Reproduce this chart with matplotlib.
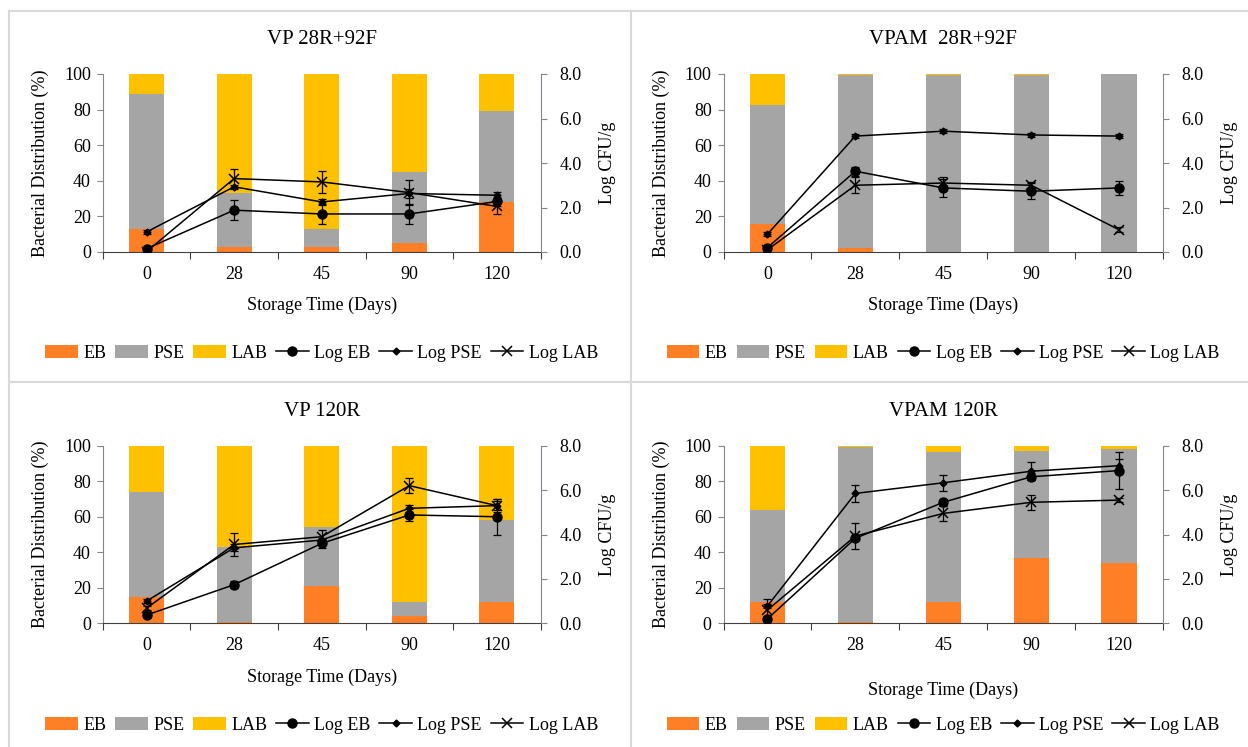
import numpy as np
import matplotlib
matplotlib.use("Agg")
import matplotlib.pyplot as plt
from matplotlib.lines import Line2D
from matplotlib.ticker import FormatStrFormatter

plt.rcParams['font.family'] = ['Liberation Serif', 'DejaVu Serif']
plt.rcParams['font.size'] = 13

# Data
days = ['0', '28', '45', '90', '120']

# VP 28R+92F
vp28_eb = [13, 3, 3, 5, 28]
vp28_pse = [76, 30, 10, 40, 51]
vp28_lab = [11, 67, 87, 55, 21]
vp28_log_eb = [0.15, 1.88, 1.71, 1.71, 2.27]
vp28_log_eb_err = [0.08, 0.45, 0.43, 0.43, 0.2]
vp28_log_pse = [0.9, 2.93, 2.25, 2.63, 2.55]
vp28_log_pse_err = [0.07, 0.08, 0.15, 0.2, 0.15]
vp28_log_lab = [0.02, 3.3, 3.15, 2.67, 2.05]
vp28_log_lab_err = [0.05, 0.43, 0.5, 0.58, 0.35]

# VPAM 28R+92F
vpam28_eb = [16, 2.5, 0, 0, 0]
vpam28_pse = [66.5, 96.8, 99.3, 99.3, 100]
vpam28_lab = [17.5, 0.7, 0.7, 0.7, 0]
vpam28_log_eb = [0.2, 3.63, 2.88, 2.73, 2.88]
vpam28_log_eb_err = [0.08, 0.2, 0.42, 0.35, 0.3]
vpam28_log_pse = [0.8, 5.21, 5.43, 5.26, 5.21]
vpam28_log_pse_err = [0.08, 0.08, 0.08, 0.08, 0.1]
vpam28_log_lab = [0.1, 3.0, 3.1, 3.0, 1.0]
vpam28_log_lab_err = [0.05, 0.35, 0.25, 0.15, 0.12]

# VP 120R
vp120_eb = [15, 1, 21, 4, 12]
vp120_pse = [59, 42, 33, 8, 46]
vp120_lab = [26, 57, 46, 88, 42]
vp120_log_eb = [0.37, 1.74, 3.6, 4.88, 4.8]
vp120_log_eb_err = [0.1, 0.15, 0.2, 0.25, 0.8]
vp120_log_pse = [1.0, 3.4, 3.75, 5.18, 5.3]
vp120_log_pse_err = [0.08, 0.15, 0.1, 0.15, 0.2]
vp120_log_lab = [0.68, 3.55, 3.9, 6.2, 5.3]
vp120_log_lab_err = [0.1, 0.5, 0.3, 0.35, 0.3]

# VPAM 120R
vpam120_eb = [12, 1, 12, 36.5, 34]
vpam120_pse = [52, 98, 84.5, 60.5, 64]
vpam120_lab = [36, 1, 3.5, 3, 2]
vpam120_log_eb = [0.2, 3.83, 5.45, 6.6, 6.88]
vpam120_log_eb_err = [0.1, 0.1, 0.15, 0.15, 0.85]
vpam120_log_pse = [0.78, 5.85, 6.33, 6.85, 7.1]
vpam120_log_pse_err = [0.1, 0.4, 0.35, 0.4, 0.3]
vpam120_log_lab = [0.6, 3.93, 4.95, 5.45, 5.55]
vpam120_log_lab_err = [0.5, 0.6, 0.35, 0.35, 0.1]

c_eb = '#FF7F27'
c_pse = '#A5A5A5'
c_lab = '#FFC000'

W, H = 1248, 747
fig = plt.figure(figsize=(W / 100, H / 100), dpi=100)

# light gray panel frames
for y in [11, 382]:
    fig.add_artist(Line2D([9 / W, 1], [1 - y / H, 1 - y / H], color='#d9d9d9', lw=1.5))
for x in [9, 631]:
    fig.add_artist(Line2D([x / W, x / W], [0, 1 - 11 / H], color='#d9d9d9', lw=1.5))


def draw_panel(box, title, eb, pse, lab, log_eb, eb_err, log_pse, pse_err, log_lab, lab_err,
               xlabel_y, legend_y):
    l, t, r, b = box
    ax = fig.add_axes([l / W, 1 - b / H, (r - l) / W, (b - t) / H])
    x = np.arange(len(days))
    eb = np.array(eb)
    pse = np.array(pse)
    lab = np.array(lab)
    ax.bar(x, eb, 0.4, color=c_eb, label='EB')
    ax.bar(x, pse, 0.4, bottom=eb, color=c_pse, label='PSE')
    ax.bar(x, lab, 0.4, bottom=eb + pse, color=c_lab, label='LAB')
    ax.set_xlim(-0.5, 4.5)
    ax.set_ylim(0, 100)
    ax.set_yticks(range(0, 101, 20))
    ax.set_xticks(np.arange(-0.5, 5, 1))
    ax.set_xticklabels([])
    ax.set_xticks(x, minor=True)
    ax.set_xticklabels(days, minor=True)
    ax.tick_params(axis='x', which='major', length=5, color='#404040')
    ax.tick_params(axis='x', which='minor', length=0, pad=10)
    ax.tick_params(axis='y', length=4.5, color='#868686', pad=4)
    for s in ['top', 'right']:
        ax.spines[s].set_visible(False)
    ax.spines['left'].set_color('#868686')
    ax.spines['bottom'].set_color('#404040')
    ax.set_ylabel('Bacterial Distribution (%)')
    ax.yaxis.set_label_coords(-54 / (r - l), 0.5)
    ax.set_xlabel('Storage Time (Days)')
    ax.xaxis.set_label_coords(0.5, -(xlabel_y - 8 - b) / (b - t))
    ax.text(0.5, 1 + 34 / (b - t), title, transform=ax.transAxes, ha='center', va='center',
            fontsize=15)

    ax2 = ax.twinx()
    ax2.set_ylim(0, 8)
    ax2.set_yticks(np.arange(0, 8.1, 2))
    ax2.yaxis.set_major_formatter(FormatStrFormatter('%.1f'))
    ax2.tick_params(axis='y', length=4.5, color='#868686', pad=9)
    for s in ['top', 'left', 'bottom']:
        ax2.spines[s].set_visible(False)
    ax2.spines['right'].set_color('#868686')
    ax2.set_ylabel('Log CFU/g')
    ax2.yaxis.set_label_coords(1 + 58 / (r - l), 0.5)

    ax2.plot(x, log_eb, color='black', lw=1.1, marker='o', ms=6.5, label='Log EB')
    ax2.plot(x, log_pse, color='black', lw=1.1, marker='D', ms=3.5, label='Log PSE')
    ax2.plot(x, log_lab, color='black', lw=1.1, marker='x', ms=7, mew=1.1, label='Log LAB')
    for y, e in [(log_eb, eb_err), (log_pse, pse_err), (log_lab, lab_err)]:
        ax2.errorbar(x, y, yerr=e, fmt='none', ecolor='black', elinewidth=0.9, capsize=3,
                     capthick=0.9)

    h1, l1 = ax.get_legend_handles_labels()
    h2, l2 = ax2.get_legend_handles_labels()
    fig.legend(h1 + h2, l1 + l2, loc='center', bbox_to_anchor=((l + r) / 2 / W, 1 - legend_y / H),
               ncol=6, frameon=False, handlelength=1.8, handletextpad=0.3, columnspacing=0.5,
               fontsize=13)


draw_panel((102.7, 74, 540.7, 252), 'VP 28R+92F', vp28_eb, vp28_pse, vp28_lab,
           vp28_log_eb, vp28_log_eb_err, vp28_log_pse, vp28_log_pse_err,
           vp28_log_lab, vp28_log_lab_err, 305, 353)
draw_panel((723.5, 74, 1163, 252), 'VPAM  28R+92F', vpam28_eb, vpam28_pse, vpam28_lab,
           vpam28_log_eb, vpam28_log_eb_err, vpam28_log_pse, vpam28_log_pse_err,
           vpam28_log_lab, vpam28_log_lab_err, 305, 353)
draw_panel((102.7, 445.7, 540.7, 623.3), 'VP 120R', vp120_eb, vp120_pse, vp120_lab,
           vp120_log_eb, vp120_log_eb_err, vp120_log_pse, vp120_log_pse_err,
           vp120_log_lab, vp120_log_lab_err, 677, 725)
draw_panel((723.5, 445.7, 1163, 623.3), 'VPAM 120R', vpam120_eb, vpam120_pse, vpam120_lab,
           vpam120_log_eb, vpam120_log_eb_err, vpam120_log_pse, vpam120_log_pse_err,
           vpam120_log_lab, vpam120_log_lab_err, 690, 725)

fig.savefig('out.png', dpi=100)
